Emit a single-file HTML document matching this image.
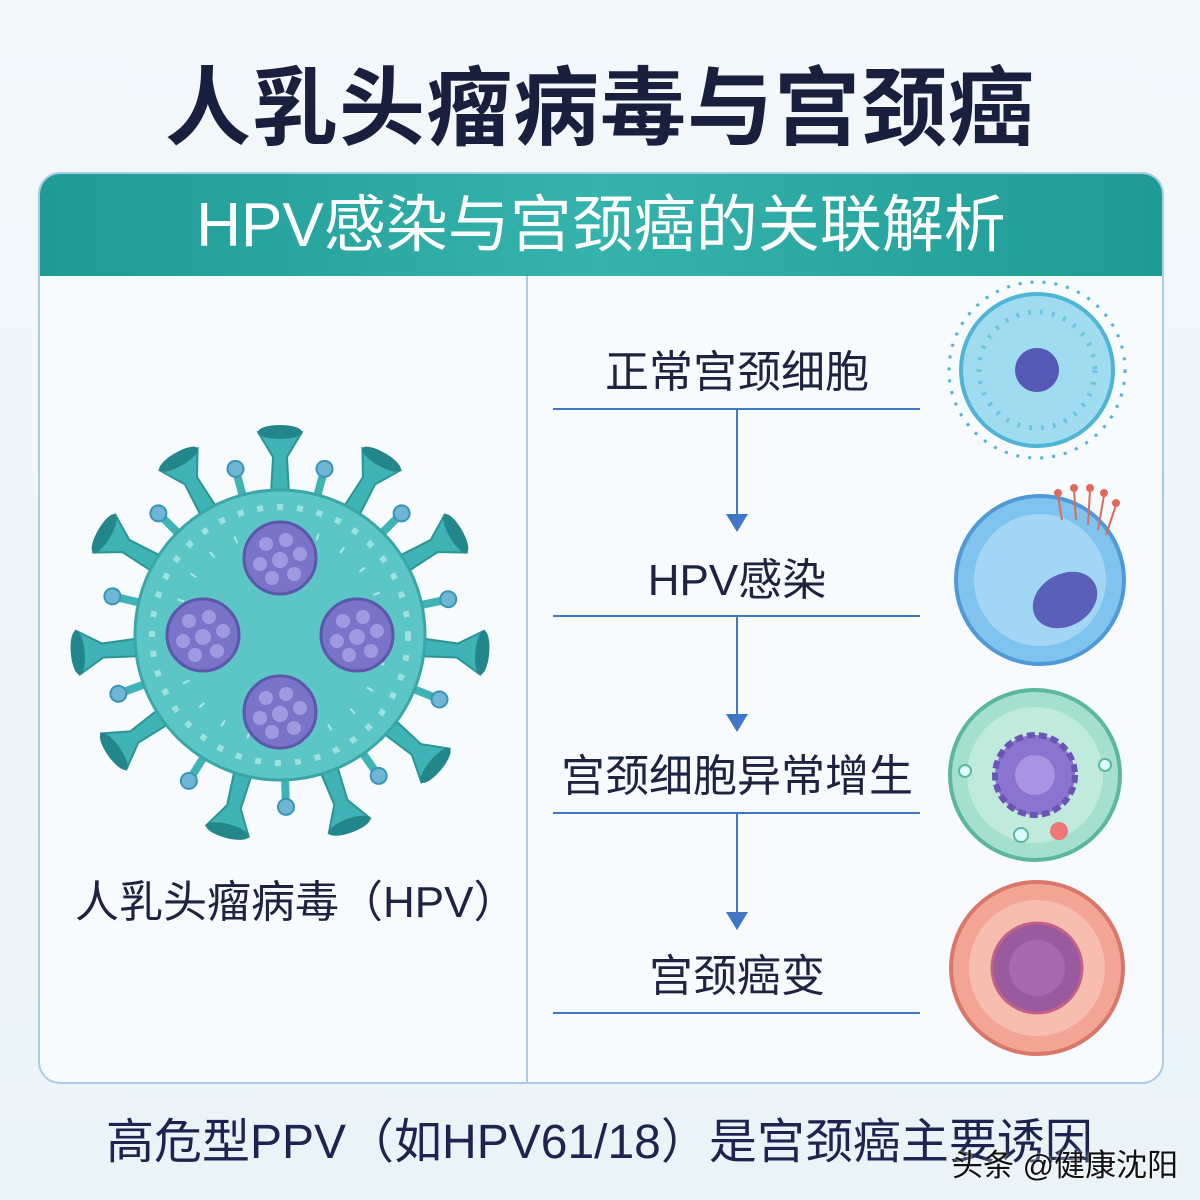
<!DOCTYPE html>
<html><head><meta charset="utf-8">
<style>
html,body{margin:0;padding:0}
body{width:1200px;height:1200px;position:relative;overflow:hidden;background:linear-gradient(#f3f8fb,#eaf3f7);font-family:"Liberation Sans","Noto Sans CJK SC",sans-serif}
.t{position:absolute;white-space:nowrap}
</style></head><body>
<div class="t" style="left:0;width:1200px;text-align:center;top:38px;font-size:86px;font-weight:bold;color:#18203d;letter-spacing:1px">人乳头瘤病毒与宫颈癌</div>
<div style="position:absolute;left:38px;top:172px;width:1122px;height:908px;border:2px solid #a9cbe6;border-radius:22px;background:#f7fbfd;overflow:hidden">
  <div style="height:102px;background:linear-gradient(90deg,#1f9a95,#36b3ac 50%,#1f9a95);color:#fff;font-size:62px;text-align:center;line-height:104px">HPV感染与宫颈癌的关联解析</div>
  <div style="position:absolute;left:486px;top:102px;width:2px;height:810px;background:#a9cbe6"></div>
</div>
<svg width="1200" height="1200" style="position:absolute;left:0;top:0">
<defs>
<g id="sp"><path d="M-9 -140 L-7 -178 L-22 -203 Q0 -212 22 -203 L7 -178 L9 -140Z" fill="#3fb3b5" stroke="#2a9597" stroke-width="2"/><ellipse cx="0" cy="-203" rx="22" ry="7" fill="#23868a"/></g>
<g id="sm"><rect x="-4" y="-170" width="8" height="32" fill="#3fb3b5"/><circle cx="0" cy="-172" r="8" fill="#6fb6d6" stroke="#3a94b5" stroke-width="2"/></g>
<g id="nu"><circle r="36" fill="#7a74c9"/><circle r="36" fill="none" stroke="#5c57aa" stroke-width="3"/><g fill="#a9a4e6" opacity=".8"><circle cx="-14" cy="-14" r="7"/><circle cx="6" cy="-18" r="7"/><circle cx="20" cy="-4" r="7"/><circle cx="-20" cy="6" r="7"/><circle cx="0" cy="2" r="8"/><circle cx="14" cy="16" r="7"/><circle cx="-8" cy="20" r="7"/></g></g>
</defs>
<g transform="translate(280,635)">
 <g>
  <use href="#sp" transform="rotate(0)"/><use href="#sp" transform="rotate(30)"/><use href="#sp" transform="rotate(60)"/><use href="#sp" transform="rotate(95)"/><use href="#sp" transform="rotate(130)"/><use href="#sp" transform="rotate(160)"/><use href="#sp" transform="rotate(195)"/><use href="#sp" transform="rotate(235)"/><use href="#sp" transform="rotate(265)"/><use href="#sp" transform="rotate(300)"/><use href="#sp" transform="rotate(330)"/>
  <use href="#sm" transform="rotate(15)"/><use href="#sm" transform="rotate(45)"/><use href="#sm" transform="rotate(78)"/><use href="#sm" transform="rotate(112)"/><use href="#sm" transform="rotate(145)"/><use href="#sm" transform="rotate(178)"/><use href="#sm" transform="rotate(212)"/><use href="#sm" transform="rotate(250)"/><use href="#sm" transform="rotate(283)"/><use href="#sm" transform="rotate(315)"/><use href="#sm" transform="rotate(345)"/>
 </g>
 <circle r="145" fill="#5cc6c6" stroke="#3aa6a8" stroke-width="3"/>
 <circle r="128" fill="none" stroke="#9ee0df" stroke-width="6" stroke-dasharray="6 14"/>
 <circle r="105" fill="none" stroke="#aee6e5" stroke-width="7" stroke-dasharray="2 26"/>
 <use href="#nu" transform="translate(0,-77)"/><use href="#nu" transform="translate(-77,0)"/><use href="#nu" transform="translate(77,0)"/><use href="#nu" transform="translate(0,77)"/>
</g>
<g stroke="#3f77c6" stroke-width="2">
 <line x1="553" y1="409" x2="920" y2="409"/><line x1="553" y1="616" x2="920" y2="616"/><line x1="553" y1="813" x2="920" y2="813"/><line x1="553" y1="1013" x2="920" y2="1013"/>
 <line x1="737" y1="409" x2="737" y2="520"/><line x1="737" y1="616" x2="737" y2="720"/><line x1="737" y1="813" x2="737" y2="918"/>
</g>
<g fill="#3f77c6"><path d="M726 514 L748 514 L737 532Z"/><path d="M726 714 L748 714 L737 732Z"/><path d="M726 912 L748 912 L737 930Z"/></g>
<g transform="translate(1037,370)">
 <circle r="88" fill="none" stroke="#4fb4d6" stroke-width="3" stroke-dasharray="3 9"/>
 <circle r="76" fill="#9fdcef" stroke="#4fb4d6" stroke-width="4"/>
 <circle r="58" fill="none" stroke="#6cc5e0" stroke-width="5" stroke-dasharray="3 9"/>
 <circle r="22" fill="#5559b5"/>
</g>
<g transform="translate(1040,580)">
 <circle r="84" fill="#7fc3ee" stroke="#4f99d6" stroke-width="4"/>
 <circle r="66" fill="#a3d6f5"/>
 <ellipse cx="25" cy="20" rx="34" ry="26" transform="rotate(-30 25 20)" fill="#5a5fba"/>
 <g stroke="#e06a5a" stroke-width="2" fill="#e06a5a"><line x1="18" y1="-85" x2="22" y2="-60"/><line x1="34" y1="-90" x2="36" y2="-60"/><line x1="50" y1="-90" x2="48" y2="-55"/><line x1="64" y1="-85" x2="58" y2="-50"/><line x1="76" y1="-75" x2="66" y2="-45"/><circle cx="18" cy="-87" r="3"/><circle cx="34" cy="-92" r="3"/><circle cx="50" cy="-92" r="3"/><circle cx="64" cy="-87" r="3"/><circle cx="76" cy="-77" r="3"/></g>
</g>
<g transform="translate(1035,775)">
 <circle r="85" fill="#a5e0cf" stroke="#5cb79f" stroke-width="4"/>
 <circle r="68" fill="#bfeadc"/>
 <circle r="40" fill="#8a74cf" stroke="#6a55b5" stroke-width="6" stroke-dasharray="8 4"/>
 <circle r="20" fill="#a894e0"/>
 <circle cx="24" cy="56" r="9" fill="#e77"/><circle cx="-14" cy="60" r="7" fill="#dff" stroke="#5cb79f" stroke-width="2"/><circle cx="70" cy="-10" r="6" fill="#dff" stroke="#5cb79f" stroke-width="2"/><circle cx="-70" cy="-4" r="6" fill="#dff" stroke="#5cb79f" stroke-width="2"/>
</g>
<g transform="translate(1037,968)">
 <circle r="86" fill="#f3a595" stroke="#d9786a" stroke-width="4"/>
 <circle r="68" fill="#f7beb0"/>
 <circle r="45" fill="#9a5b9e" stroke="#c35f8a" stroke-width="3"/>
 <circle r="28" fill="#a86aae"/>
</g>
</svg>
<div class="t" style="left:553px;width:368px;text-align:center;top:336px;font-size:44px;color:#1d2340">正常宫颈细胞</div>
<div class="t" style="left:553px;width:368px;text-align:center;top:544px;font-size:44px;color:#1d2340">HPV感染</div>
<div class="t" style="left:553px;width:368px;text-align:center;top:740px;font-size:44px;color:#1d2340">宫颈细胞异常增生</div>
<div class="t" style="left:553px;width:368px;text-align:center;top:940px;font-size:44px;color:#1d2340">宫颈癌变</div>
<div class="t" style="left:75px;top:866px;font-size:44px;color:#1d2340">人乳头瘤病毒（HPV）</div>
<div class="t" style="left:106px;top:1102px;font-size:48px;color:#1b2550">高危型PPV（如HPV61/18）是宫颈癌主要诱因</div>
<div class="t" style="left:952px;top:1140px;font-size:31px;color:#111;text-shadow:0 0 3px #fff">头条 @健康沈阳</div>
</body></html>
